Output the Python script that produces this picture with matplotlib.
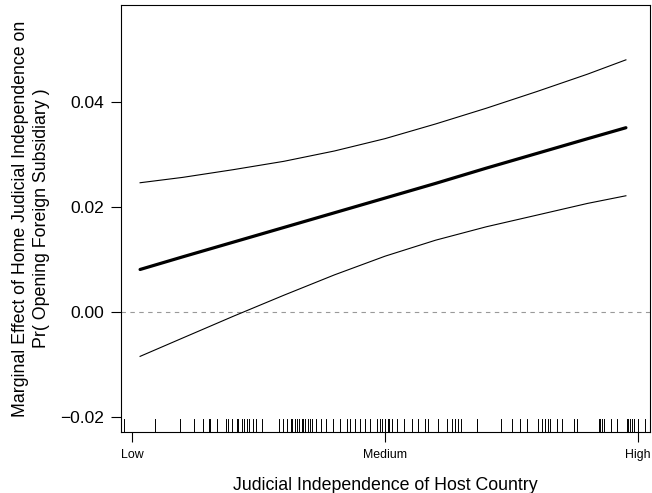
import matplotlib
matplotlib.use("Agg")
import matplotlib.pyplot as plt

plt.rcParams['font.family'] = ['Liberation Sans', 'DejaVu Sans']

# host judicial independence, scaled so Low = 0, High = 1
x_grid = [0.016, 0.1, 0.2, 0.3, 0.4, 0.5, 0.6, 0.7, 0.8, 0.9, 0.976]
effect = [0.0081, 0.0105, 0.0133, 0.0161, 0.0189, 0.0217,
          0.0245, 0.0274, 0.0302, 0.0330, 0.0351]
upper = [0.02462, 0.02564, 0.02711, 0.02870, 0.03067, 0.03302,
         0.03582, 0.03881, 0.04199, 0.04530, 0.04803]
lower = [-0.00845, -0.00496, -0.00082, 0.00319, 0.00707, 0.01063,
         0.01368, 0.01623, 0.01845, 0.02068, 0.02214]

# observed values of host judicial independence (rug), pixel readings
rug_px = [124, 155, 180, 194, 202.7, 209.3,
          210, 217.3, 225.7, 227.7, 231.7, 236.7, 238.3, 241.7, 244.3, 246.7,
          249.3, 252.7, 256, 261.7, 279, 283.3, 286.7, 291,
          291.7, 295, 297.3, 299.3, 301.7, 303.3, 305, 308.3, 310, 311.7, 316,
          320.7, 326, 332.7, 340, 346.7, 350, 355, 360, 365, 370, 376.7,
          380, 382.3, 385, 387.7, 389, 392.3, 396.7, 404.3, 411.7, 417.7,
          425, 428.3, 437.7, 446.7, 452.3, 455, 458.3, 461,
          476.7, 477.3, 500.7, 511.7, 520, 526.7, 538.3, 541.7, 545, 548.3,
          550, 556.7, 562.3, 574.3, 576.7, 599, 600, 601.7, 604.3, 611, 616.7,
          626.7, 628.3, 630, 632.3, 634.3, 638.3, 645]
rug = [(p - 132) / 506 for p in rug_px]

tick_pos = [0, 0.5, 1]
tick_labels = ['Low', 'Medium', 'High']

fig = plt.figure(figsize=(6.52, 4.93), dpi=100)
ax = fig.add_axes([0.1856, 0.1237, 0.8114, 0.8662])

ax.axhline(0, color='#999999', lw=0.8, ls=(0, (4, 4)))
ax.plot(x_grid, upper, color='black', lw=0.8)
ax.plot(x_grid, lower, color='black', lw=0.8)
ax.plot(x_grid, effect, color='black', lw=2.3, solid_capstyle='round')

for r in rug:
    ax.axvline(r, ymin=0, ymax=0.03, color='black', lw=0.7)

ax.set_xlim(-0.0217, 1.0237)
ax.set_ylim(-0.02286, 0.05848)

ax.set_xticks(tick_pos)
ax.set_xticklabels(tick_labels, fontsize=8.9)
ax.set_yticks([-0.02, 0.0, 0.02, 0.04])
ax.set_yticklabels(['\u22120.02', '0.00', '0.02', '0.04'], fontsize=12.5)
ax.tick_params(direction='out', length=7, width=0.8, color='black')
ax.tick_params(axis='x', pad=5)
ax.tick_params(axis='y', pad=5)
for s in ax.spines.values():
    s.set_linewidth(0.8)

ax.set_xlabel('Judicial Independence of Host Country', fontsize=12.8, labelpad=12)
ax.set_ylabel('Marginal Effect of Home Judicial Independence on\nPr( Opening Foreign Subsidiary )',
              fontsize=12.8, labelpad=7.5, linespacing=1.35)

fig.savefig('out.png', dpi=100)
